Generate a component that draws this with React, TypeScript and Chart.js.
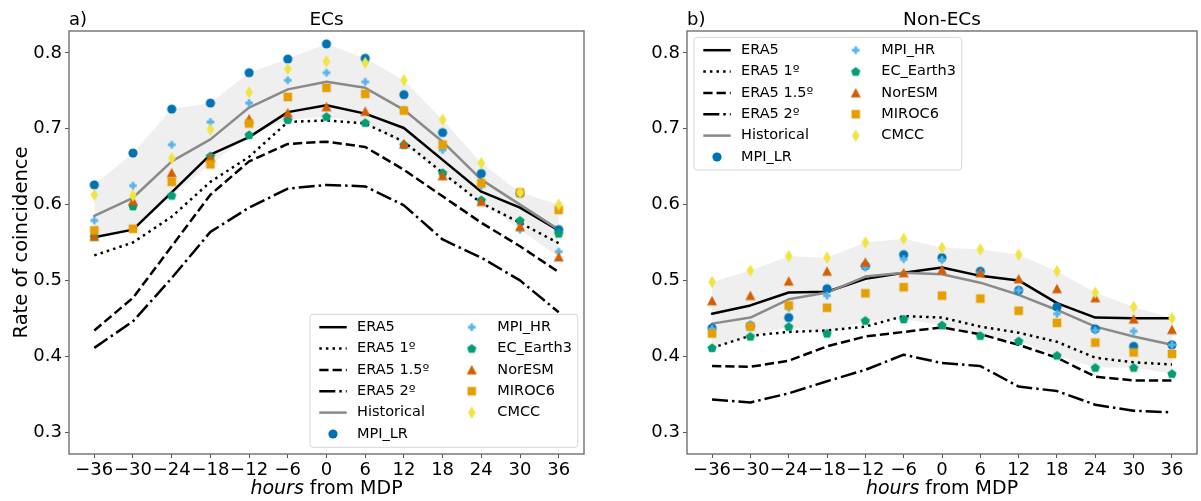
import React, { useEffect, useRef } from 'react';
import { Chart, registerables } from 'chart.js';

Chart.register(...registerables);

const FONT = "'DejaVu Sans', sans-serif";

// ---------------- data ----------------
const hours = [-36, -30, -24, -18, -12, -6, 0, 6, 12, 18, 24, 30, 36];
const yTickValues = [0.3, 0.4, 0.5, 0.6, 0.7, 0.8];

// Panel a) ECs
const ecsEra5 = [0.557, 0.567, 0.616, 0.666, 0.689, 0.722, 0.731, 0.720, 0.701, 0.659, 0.617, 0.596, 0.566];
const ecsEra5_1 = [0.533, 0.550, 0.584, 0.630, 0.663, 0.709, 0.711, 0.707, 0.683, 0.642, 0.602, 0.576, 0.549];
const ecsEra5_15 = [0.434, 0.477, 0.545, 0.613, 0.657, 0.680, 0.683, 0.676, 0.646, 0.611, 0.576, 0.545, 0.511];
const ecsEra5_2 = [0.411, 0.446, 0.503, 0.564, 0.596, 0.621, 0.626, 0.624, 0.599, 0.554, 0.530, 0.500, 0.458];
const ecsHistorical = [0.585, 0.609, 0.657, 0.686, 0.728, 0.752, 0.762, 0.754, 0.725, 0.683, 0.633, 0.600, 0.567];
const ecsMpiLR = [0.626, 0.668, 0.726, 0.734, 0.774, 0.792, 0.812, 0.793, 0.745, 0.695, 0.641, 0.615, 0.567];
const ecsMpiHR = [0.579, 0.625, 0.679, 0.709, 0.734, 0.764, 0.774, 0.762, 0.725, 0.672, 0.625, 0.567, 0.538];
const ecsEcEarth3 = [0.558, 0.598, 0.612, 0.664, 0.692, 0.712, 0.716, 0.708, 0.679, 0.642, 0.606, 0.579, 0.562];
const ecsNorESM = [0.558, 0.605, 0.642, 0.662, 0.713, 0.721, 0.729, 0.723, 0.680, 0.638, 0.604, 0.571, 0.531];
const ecsMiroc6 = [0.566, 0.568, 0.630, 0.653, 0.707, 0.742, 0.754, 0.746, 0.724, 0.679, 0.628, 0.616, 0.593];
const ecsCmcc = [0.613, 0.612, 0.661, 0.699, 0.748, 0.779, 0.789, 0.787, 0.764, 0.712, 0.655, 0.616, 0.600];

// Panel b) Non-ECs
const nonEra5 = [0.456, 0.467, 0.484, 0.485, 0.502, 0.510, 0.517, 0.506, 0.500, 0.470, 0.451, 0.450, 0.450];
const nonEra5_1 = [0.411, 0.427, 0.432, 0.434, 0.439, 0.453, 0.451, 0.439, 0.431, 0.419, 0.398, 0.392, 0.389];
const nonEra5_15 = [0.387, 0.386, 0.394, 0.413, 0.426, 0.432, 0.438, 0.429, 0.415, 0.398, 0.373, 0.368, 0.368];
const nonEra5_2 = [0.343, 0.339, 0.351, 0.367, 0.382, 0.402, 0.391, 0.387, 0.360, 0.354, 0.336, 0.328, 0.326];
const nonHistorical = [0.443, 0.451, 0.475, 0.484, 0.505, 0.510, 0.508, 0.497, 0.481, 0.461, 0.439, 0.426, 0.415];
const nonMpiLR = [0.437, 0.440, 0.451, 0.489, 0.519, 0.534, 0.530, 0.512, 0.487, 0.465, 0.436, 0.413, 0.415];
const nonMpiHR = [0.436, 0.442, 0.464, 0.480, 0.517, 0.528, 0.527, 0.510, 0.487, 0.456, 0.434, 0.433, 0.415];
const nonEcEarth3 = [0.411, 0.426, 0.439, 0.430, 0.447, 0.449, 0.441, 0.427, 0.420, 0.401, 0.385, 0.385, 0.377];
const nonNorESM = [0.473, 0.480, 0.499, 0.512, 0.524, 0.510, 0.514, 0.510, 0.502, 0.489, 0.477, 0.449, 0.435];
const nonMiroc6 = [0.430, 0.439, 0.467, 0.464, 0.483, 0.491, 0.480, 0.476, 0.460, 0.444, 0.418, 0.405, 0.403];
const nonCmcc = [0.498, 0.513, 0.532, 0.530, 0.550, 0.555, 0.543, 0.541, 0.534, 0.512, 0.484, 0.465, 0.450];

const lineNames = ['ERA5', 'ERA5 1º', 'ERA5 1.5º', 'ERA5 2º', 'Historical'];
const modelNames = ['MPI_LR', 'MPI_HR', 'EC_Earth3', 'NorESM', 'MIROC6', 'CMCC'];

// ---------------- styles ----------------
const lineColors = ['#000000', '#000000', '#000000', '#000000', '#8a8a8a'];
const LW = 2.5;
const lineDashes: number[][] = [[], [2.5, 4.1], [9.25, 4], [16, 4, 2.5, 4], []];
const modelColors = ['#0072B2', '#56B4E9', '#009E73', '#D55E00', '#E69F00', '#F0E442'];
const modelShapes = ['circle', 'plus', 'pentagon', 'triangle', 'square', 'diamond'];

function makeMarker(shape: string, color: string): HTMLCanvasElement {
  const S = 16;
  const c = document.createElement('canvas');
  c.width = S;
  c.height = S;
  const ctx = c.getContext('2d')!;
  const m = S / 2;
  ctx.fillStyle = color;
  ctx.beginPath();
  if (shape === 'circle') {
    ctx.arc(m, m, 4.6, 0, Math.PI * 2);
  } else if (shape === 'square') {
    ctx.rect(m - 4.3, m - 4.3, 8.6, 8.6);
  } else if (shape === 'triangle') {
    ctx.moveTo(m, m - 4.9);
    ctx.lineTo(m + 5.0, m + 4.6);
    ctx.lineTo(m - 5.0, m + 4.6);
    ctx.closePath();
  } else if (shape === 'diamond') {
    ctx.moveTo(m, m - 6.2);
    ctx.lineTo(m + 3.8, m);
    ctx.lineTo(m, m + 6.2);
    ctx.lineTo(m - 3.8, m);
    ctx.closePath();
  } else if (shape === 'pentagon') {
    const r = 4.9;
    for (let k = 0; k < 5; k++) {
      const a = -Math.PI / 2 + (k * 2 * Math.PI) / 5;
      const px = m + r * Math.cos(a);
      const py = m + 0.4 + r * Math.sin(a);
      if (k === 0) ctx.moveTo(px, py);
      else ctx.lineTo(px, py);
    }
    ctx.closePath();
  } else if (shape === 'plus') {
    const h = 3.8;
    const w = 1.4;
    ctx.rect(m - h, m - w, 2 * h, 2 * w);
    ctx.rect(m - w, m - h, 2 * w, 2 * h);
  }
  ctx.fill();
  return c;
}

interface PanelSpec {
  tag: string;
  title: string;
  lines: number[][];
  models: number[][];
  yTitle: boolean;
  yAxisWidth: number;
  padRight: number;
  legend: { x: number; y: number; w: number; h: number };
}

const X_MIN = -39.92;
const X_MAX = 39.92;
const Y_MIN = 0.271;
const Y_MAX = 0.829;

function fmtHour(v: number) {
  return v < 0 ? '\u2212' + Math.abs(v) : String(v);
}

function buildConfig(spec: PanelSpec): any {
  const markers = modelShapes.map((s, i) => makeMarker(s, modelColors[i]));
  const toXY = (arr: number[]) => hours.map((h, i) => ({ x: h, y: arr[i] }));
  const upper = hours.map((_, i) => Math.max(...spec.models.map((m) => m[i])));
  const lower = hours.map((_, i) => Math.min(...spec.models.map((m) => m[i])));

  const datasets: any[] = [
    {
      label: 'band_upper',
      data: toXY(upper),
      borderWidth: 0,
      borderColor: 'rgba(0,0,0,0)',
      pointRadius: 0,
      fill: '+1',
      backgroundColor: '#efefef',
      tension: 0,
      order: 100,
    },
    {
      label: 'band_lower',
      data: toXY(lower),
      borderWidth: 0,
      borderColor: 'rgba(0,0,0,0)',
      pointRadius: 0,
      fill: false,
      tension: 0,
      order: 99,
    },
  ];
  spec.lines.forEach((arr, i) => {
    datasets.push({
      label: lineNames[i],
      data: toXY(arr),
      borderColor: lineColors[i],
      borderWidth: LW,
      borderDash: lineDashes[i],
      borderCapStyle: lineDashes[i].length ? 'butt' : 'round',
      borderJoinStyle: 'round',
      pointRadius: 0,
      fill: false,
      tension: 0,
      order: 60 - i,
    });
  });
  spec.models.forEach((arr, i) => {
    datasets.push({
      label: modelNames[i],
      data: toXY(arr),
      showLine: false,
      pointStyle: markers[i],
      pointRadius: 5,
      pointHoverRadius: 5,
      pointBorderWidth: 0,
      backgroundColor: modelColors[i],
      borderColor: modelColors[i],
      fill: false,
      order: 30 - i,
    });
  });

  const tickFont = { family: FONT, size: 18 };

  const framePlugin = {
    id: 'frame_' + spec.tag,
    afterDatasetsDraw(chart: any) {
      const { ctx, chartArea: a } = chart;
      ctx.save();
      ctx.strokeStyle = '#707070';
      ctx.lineWidth = 1.4;
      ctx.strokeRect(a.left, a.top, a.right - a.left, a.bottom - a.top);
      ctx.restore();
    },
  };

  const legendPlugin = {
    id: 'legend_' + spec.tag,
    afterDraw(chart: any) {
      const ctx: CanvasRenderingContext2D = chart.ctx;
      const L = spec.legend;
      ctx.save();
      // box
      const r = 3;
      ctx.beginPath();
      ctx.moveTo(L.x + r, L.y);
      ctx.lineTo(L.x + L.w - r, L.y);
      ctx.arcTo(L.x + L.w, L.y, L.x + L.w, L.y + r, r);
      ctx.lineTo(L.x + L.w, L.y + L.h - r);
      ctx.arcTo(L.x + L.w, L.y + L.h, L.x + L.w - r, L.y + L.h, r);
      ctx.lineTo(L.x + r, L.y + L.h);
      ctx.arcTo(L.x, L.y + L.h, L.x, L.y + L.h - r, r);
      ctx.lineTo(L.x, L.y + r);
      ctx.arcTo(L.x, L.y, L.x + r, L.y, r);
      ctx.closePath();
      ctx.fillStyle = 'rgba(255,255,255,0.8)';
      ctx.fill();
      ctx.strokeStyle = '#d6d6d6';
      ctx.lineWidth = 1;
      ctx.stroke();

      ctx.font = `14.5px ${FONT}`;
      ctx.textBaseline = 'middle';
      ctx.textAlign = 'left';
      const rowY = (k: number) => L.y + 12.9 + k * 21.35;
      // column 1: lines
      lineNames.forEach((name, i) => {
        const y = rowY(i);
        ctx.beginPath();
        ctx.setLineDash(lineDashes[i]);
        ctx.lineCap = lineDashes[i].length ? 'butt' : 'butt';
        ctx.strokeStyle = lineColors[i];
        ctx.lineWidth = LW;
        ctx.moveTo(L.x + 9.3, y);
        ctx.lineTo(L.x + 36.7, y);
        ctx.stroke();
        ctx.setLineDash([]);
        ctx.fillStyle = '#000';
        ctx.fillText(name, L.x + 47, y);
      });
      // MPI_LR under column 1
      {
        const y = rowY(5);
        ctx.drawImage(markers[0], L.x + 23 - 8, y - 8);
        ctx.fillStyle = '#000';
        ctx.fillText(modelNames[0], L.x + 47, y);
      }
      for (let i = 1; i < modelNames.length; i++) {
        const y = rowY(i - 1);
        ctx.drawImage(markers[i], L.x + 161.7 - 8, y - 8);
        ctx.fillStyle = '#000';
        ctx.fillText(modelNames[i], L.x + 187.3, y);
      }
      ctx.restore();
    },
  };

  const textPlugin = {
    id: 'text_' + spec.tag,
    afterDraw(chart: any) {
      const ctx: CanvasRenderingContext2D = chart.ctx;
      const a = chart.chartArea;
      ctx.save();
      ctx.fillStyle = '#000';
      ctx.textBaseline = 'alphabetic';
      // panel tag
      ctx.font = `18px ${FONT}`;
      ctx.textAlign = 'left';
      ctx.fillText(spec.tag, a.left, 25);
      // title
      ctx.textAlign = 'center';
      ctx.font = `18.5px ${FONT}`;
      ctx.fillText(spec.title, (a.left + a.right) / 2, 25);
      // x axis title, "hours" italic
      const cx = (a.left + a.right) / 2;
      const f1 = `italic 19px ${FONT}`;
      const f2 = `19px ${FONT}`;
      ctx.font = f1;
      const w1 = ctx.measureText('hours').width;
      ctx.font = f2;
      const w2 = ctx.measureText(' from MDP').width;
      const x0 = cx - (w1 + w2) / 2;
      ctx.textAlign = 'left';
      ctx.font = f1;
      ctx.fillText('hours', x0, 494);
      ctx.font = f2;
      ctx.fillText(' from MDP', x0 + w1, 494);
      // y axis title
      if (spec.yTitle) {
        ctx.save();
        ctx.translate(22, (a.top + a.bottom) / 2);
        ctx.rotate(-Math.PI / 2);
        ctx.textAlign = 'center';
        ctx.textBaseline = 'middle';
        ctx.font = `19.5px ${FONT}`;
        ctx.fillText('Rate of coincidence', 0, 0);
        ctx.restore();
      }
      ctx.restore();
    },
  };

  return {
    type: 'line',
    data: { datasets },
    plugins: [framePlugin, legendPlugin, textPlugin],
    options: {
      animation: false,
      responsive: false,
      maintainAspectRatio: false,
      events: [],
      layout: { padding: { top: 31, right: spec.padRight, left: 0, bottom: 0 } },
      plugins: {
        legend: { display: false },
        tooltip: { enabled: false },
        title: { display: false },
      },
      scales: {
        x: {
          type: 'linear',
          min: X_MIN,
          max: X_MAX,
          afterBuildTicks: (s: any) => {
            s.ticks = hours.map((v) => ({ value: v }));
          },
          afterFit: (s: any) => {
            s.height = 47;
          },
          ticks: {
            autoSkip: false,
            maxRotation: 0,
            minRotation: 0,
            padding: 2,
            color: '#000',
            font: tickFont,
            callback: (v: any) => fmtHour(Number(v)),
          },
          grid: { display: true, drawOnChartArea: false, drawTicks: true, tickLength: 4, color: '#555', lineWidth: 1 },
          border: { display: false },
        },
        y: {
          type: 'linear',
          min: Y_MIN,
          max: Y_MAX,
          afterBuildTicks: (s: any) => {
            s.ticks = yTickValues.map((v) => ({ value: v }));
          },
          afterFit: (s: any) => {
            s.width = spec.yAxisWidth;
          },
          ticks: {
            padding: 3,
            color: '#000',
            font: tickFont,
            callback: (v: any) => Number(v).toFixed(1),
          },
          grid: { display: true, drawOnChartArea: false, drawTicks: true, tickLength: 4, color: '#555', lineWidth: 1 },
          border: { display: false },
        },
      },
    },
  };
}

const leftSpec: PanelSpec = {
  tag: 'a)',
  title: 'ECs',
  lines: [ecsEra5, ecsEra5_1, ecsEra5_15, ecsEra5_2, ecsHistorical],
  models: [ecsMpiLR, ecsMpiHR, ecsEcEarth3, ecsNorESM, ecsMiroc6, ecsCmcc],
  yTitle: true,
  yAxisWidth: 69,
  padRight: 16,
  legend: { x: 310, y: 314.3, w: 267.7, h: 133 },
};

const rightSpec: PanelSpec = {
  tag: 'b)',
  title: 'Non-ECs',
  lines: [nonEra5, nonEra5_1, nonEra5_15, nonEra5_2, nonHistorical],
  models: [nonMpiLR, nonMpiHR, nonEcEarth3, nonNorESM, nonMiroc6, nonCmcc],
  yTitle: false,
  yAxisWidth: 87,
  padRight: 0,
  legend: { x: 94, y: 37.3, w: 267.7, h: 132.7 },
};

function Panel({ spec, left, width }: { spec: PanelSpec; left: number; width: number }) {
  const ref = useRef<HTMLCanvasElement>(null);
  useEffect(() => {
    const chart = new Chart(ref.current!, buildConfig(spec));
    return () => chart.destroy();
  }, [spec]);
  return (
    <canvas
      ref={ref}
      width={width}
      height={501}
      style={{ position: 'absolute', left, top: 0, width, height: 501, display: 'block' }}
    />
  );
}

export default function App() {
  return (
    <div
      style={{
        position: 'fixed',
        left: 0,
        top: 0,
        width: 1201,
        height: 501,
        overflow: 'hidden',
        background: '#fff',
      }}
    >
      <Panel spec={leftSpec} left={0} width={600} />
      <Panel spec={rightSpec} left={600} width={602} />
    </div>
  );
}
